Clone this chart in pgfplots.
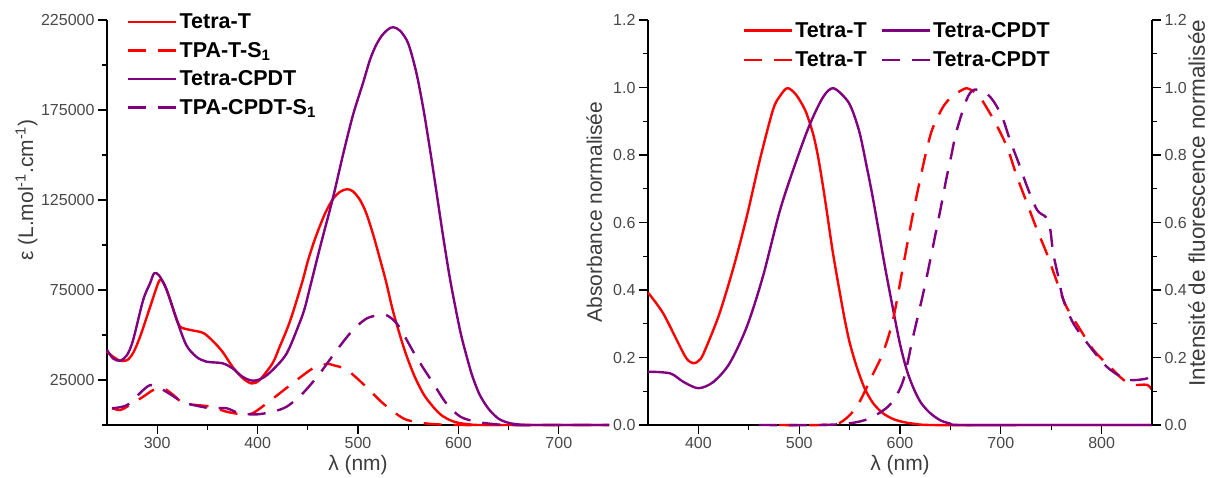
\documentclass[border=0pt]{standalone}
\usepackage{fontspec}
\setmainfont{Liberation Sans}
\usepackage{pgfplots}
\pgfplotsset{compat=1.18}
\definecolor{cpdt}{RGB}{128,0,128}
\definecolor{tred}{RGB}{255,0,0}
\definecolor{tickgray}{RGB}{72,72,72}
\definecolor{labgray}{RGB}{60,60,60}
\tikzset{labfont/.style={font=\fontsize{21}{25}\selectfont, text=labgray}}
\pgfplotsset{
  common/.style={
    scale only axis,
    axis line style={line width=1.3pt, black, -},
    tick style={line width=1.2pt, black},
    major tick length=9pt, minor tick length=5pt,
    tick align=outside,
    ticklabel style={font=\fontsize{16}{19}\selectfont, text=tickgray},
    /pgf/number format/assume math mode=true,
    clip=false,
  },
  sl/.style={line width=2.4pt, line join=round, smooth, tension=0.5},
  dl/.style={line width=2.4pt, line join=round, smooth, tension=0.5, dash pattern=on 18pt off 12pt},
  legend image code/.code={\draw[#1] (0pt,0pt) -- (48pt,0pt);},
}
\begin{document}
\begin{tikzpicture}
\useasboundingbox (0,0) rectangle (1209pt,477pt);
% ---------------- Left panel ----------------
\begin{axis}[common,
  at={(107pt,52pt)}, anchor=south west, width=502pt, height=405pt,
  xmin=250, xmax=750, ymin=0, ymax=225000,
  axis x line*=bottom, axis y line*=left,
  xtick={300,400,500,600,700}, minor xtick={350,450,550,650},
  ytick={25000,75000,125000,175000,225000},
  minor ytick={0,50000,100000,150000,200000},
  scaled y ticks=false,
  yticklabel style={/pgf/number format/.cd, fixed, precision=0, 1000 sep={}},
  xlabel={λ (nm)},
  ylabel={ε (L.mol\textsuperscript{-1}.cm\textsuperscript{-1})},
  every axis x label/.style={at={(axis description cs:0.5,-0.10)}, anchor=center, labfont},
  every axis y label/.style={at={(axis description cs:-0.147,0.58)}, anchor=base, rotate=90, labfont},
  legend style={at={(axis description cs:0.04,1.02)}, anchor=north west, draw=none, fill=none,
    font=\bfseries\fontsize{21.5}{25}\selectfont, row sep=8pt, inner sep=0pt, nodes={inner sep=2pt}},
  legend cell align=left,
]
\addplot[sl, tred] coordinates {
(250,40700)(256,38000)(263,35700)(270,36000)(276,40000)(283,49100)(293,65700)(301,78900)(304,80600)
(308,77000)(313,69400)(318,61000)(323,54600)(333,52800)(346,51100)(356,46300)(365,40700)(375,32400)
(385,26100)(394,23100)(402,25000)(415,34400)(422,43500)(429,52800)(435,62200)(445,80500)(450,91000)
(456,101500)(462,110500)(468,118500)(475,125500)(482,129500)(489,131000)(495,129800)(502,125000)
(508,118000)(515,106000)(522,92000)(528,79500)(535,63000)(545,44000)(552,33000)(558,25000)(566,16500)
(575,10000)(583,5500)(592,2600)(600,1200)(610,400)(620,0)(650,0)(700,0)(750,0)};
\addlegendentry{Tetra-T}
\addplot[dl, tred] coordinates {
(255,9300)(263,8300)(270,10200)(286,15700)(296,19400)(306,20400)(316,16700)(326,12000)(339,11100)
(353,10200)(369,7400)(385,5900)(395,6500)(409,12000)(422,17600)(439,25000)(455,31500)(465,33300)
(470,34000)(475,33300)(489,30600)(508,21300)(525,12000)(545,3700)(560,1500)(575,500)(600,0)(650,0)(700,0)(750,0)};
\addlegendentry{TPA-T-S\textsubscript{1}}
\addplot[sl, cpdt] coordinates {
(250,41700)(256,37000)(263,35700)(270,38900)(276,47200)(286,69400)(293,78900)(297,84300)(302,83000)
(309.5,75000)(319.5,58300)(329,44400)(339,37900)(349,35200)(365,34300)(375,31500)(385,26800)(395,24600)
(405,26100)(415,30600)(429,39800)(442,57000)(447,65000)(452,76000)(462,98300)(475,126100)(485,150000)
(495,172200)(505,190000)(512,203000)(518,211000)(524,216500)(530,219800)(535,221000)(542,219000)
(550,212000)(558,196000)(565,176000)(572,152000)(578,130000)(585,104000)(592,80000)(600,57000)
(604,47000)(610,34500)(614,27000)(621,17000)(630,9000)(640,3500)(650,1200)(660,300)(670,0)(720,0)(750,0)};
\addlegendentry{Tetra-CPDT}
\addplot[dl, cpdt] coordinates {
(255,9300)(270,11100)(286,19400)(293,22200)(299,21500)(306,19500)(316,16000)(326,12500)(336,11100)
(353,9300)(369,9300)(382,6500)(399,5900)(415,7400)(429,10200)(445,17600)(462,28700)(479,41700)
(495,52800)(509,59300)(522,61100)(528,61100)(535,58500)(542,53700)(558,37900)(575,23100)(588,12000)
(602,4600)(618,1800)(635,500)(650,0)(700,0)(750,0)};
\addlegendentry{TPA-CPDT-S\textsubscript{1}}
\end{axis}
% ---------------- Right panel ----------------
\begin{axis}[common,
  at={(648pt,52pt)}, anchor=south west, width=504pt, height=405pt,
  xmin=350, xmax=850, ymin=0, ymax=1.2,
  axis x line*=bottom, axis y line*=left,
  xtick={400,500,600,700,800}, minor xtick={450,550,650,750},
  ytick={0,0.2,0.4,0.6,0.8,1.0,1.2}, minor ytick={0.1,0.3,0.5,0.7,0.9,1.1},
  yticklabel style={/pgf/number format/.cd, fixed, fixed zerofill, precision=1},
  xlabel={λ (nm)},
  ylabel={Absorbance normalisée},
  every axis x label/.style={at={(axis description cs:0.5,-0.10)}, anchor=center, labfont},
  every axis y label/.style={at={(axis description cs:-0.0913,0.526)}, anchor=base, rotate=90, labfont},
  legend columns=2,
  legend style={at={(axis description cs:0.188,1.0)}, anchor=north west, draw=none, fill=none,
    font=\bfseries\fontsize{21.5}{25}\selectfont, row sep=9pt, inner sep=0pt, nodes={inner sep=2pt},
    /tikz/every even column/.append style={column sep=12pt}},
  legend cell align=left,
]
\addplot[sl, tred] coordinates {
(350,0.39)(352,0.385)(365,0.331)(378.5,0.252)(388,0.198)(395,0.183)(402,0.195)(408,0.232)(421,0.331)
(435,0.469)(448,0.618)(461,0.786)(474,0.934)(481,0.975)(488,0.998)(495,0.985)(501,0.96)(507,0.925)
(514,0.86)(519,0.79)(524,0.70)(529,0.60)(534,0.50)(544,0.331)(550,0.245)(557,0.173)(565,0.108)
(573.5,0.064)(583,0.035)(593,0.018)(603,0.009)(613,0.004)(630,0)(700,0)(800,0)(850,0)};
\addlegendentry{Tetra-T}
\addplot[sl, cpdt] coordinates {
(350,0.158)(372,0.153)(385,0.128)(400,0.109)(415,0.128)(431,0.183)(448,0.291)(464,0.44)(481,0.637)
(497.5,0.786)(511,0.894)(524,0.973)(534,0.998)(547,0.964)(553,0.93)(560,0.865)(566,0.78)(572,0.69)
(578,0.59)(585,0.47)(592,0.36)(600,0.24)(607,0.16)(614,0.105)(621,0.065)(630,0.035)(640,0.014)
(650,0.004)(660,0)(750,0)(850,0)};
\addlegendentry{Tetra-CPDT}
\addplot[dl, tred] coordinates {
(480,0)(520,0)(540,0.006)(557,0.054)(573.5,0.153)(583,0.213)(593,0.311)(603,0.469)(613,0.628)(623,0.77)
(628,0.835)(633,0.884)(643,0.944)(652,0.975)(660,0.99)(666,0.998)(672,0.99)(679,0.973)(693,0.904)(706,0.825)
(716,0.736)(726,0.657)(736,0.578)(745.5,0.509)(755,0.43)(765,0.351)(779,0.282)(792,0.222)(808,0.173)
(822,0.133)(832,0.119)(845,0.119)(850,0.104)};
\addlegendentry{Tetra-T}
\addplot[dl, cpdt] coordinates {
(460,0)(520,0)(550,0.005)(570,0.02)(590,0.06)(603,0.13)(613,0.262)(623,0.39)(630,0.489)(640,0.637)
(646,0.73)(651,0.80)(656,0.87)(666,0.964)(673,0.993)(683,0.988)(690,0.97)(696,0.944)(702.5,0.904)(709,0.845)
(719,0.766)(726,0.707)(736,0.637)(745,0.615)(749,0.58)(752,0.509)(757,0.44)(762,0.371)(772,0.301)
(788.5,0.232)(805,0.173)(822,0.138)(832,0.133)(845,0.138)(850,0.15)};
\addlegendentry{Tetra-CPDT}
\end{axis}
\begin{axis}[common,
  at={(648pt,52pt)}, anchor=south west, width=504pt, height=405pt,
  xmin=350, xmax=850, ymin=0, ymax=1.2,
  axis x line=none, axis y line*=right,
  ytick={0,0.2,0.4,0.6,0.8,1.0,1.2}, minor ytick={0.1,0.3,0.5,0.7,0.9,1.1},
  yticklabel style={/pgf/number format/.cd, fixed, fixed zerofill, precision=1},
  ylabel={Intensité de fluorescence normalisée},
  every axis y label/.style={at={(axis description cs:1.105,0.548)}, anchor=base, rotate=90, font=\fontsize{22.5}{26}\selectfont, text=labgray},
]
\end{axis}
\end{tikzpicture}
\end{document}
